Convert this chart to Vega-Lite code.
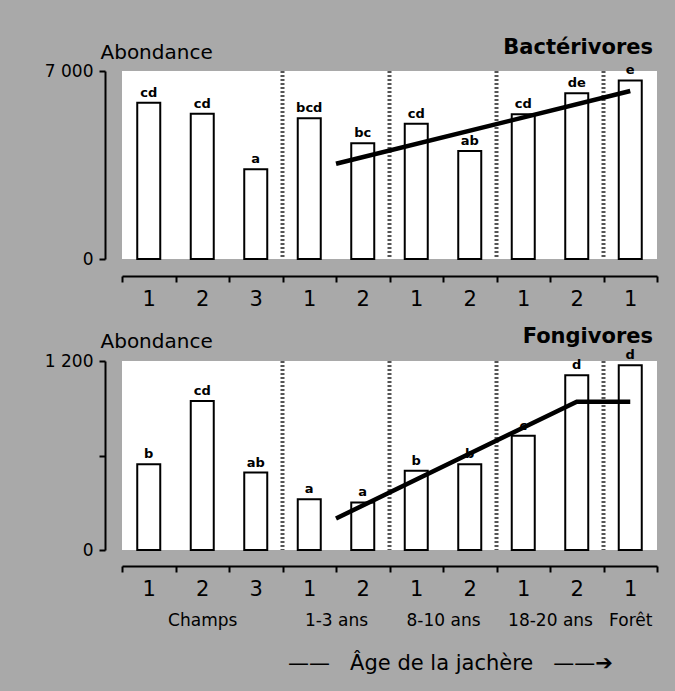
{
  "$schema": "https://vega.github.io/schema/vega-lite/v6.json",
  "background": "#a9a9a9",
  "padding": {"left": 44, "top": 37, "right": 18, "bottom": 18},
  "config": {
    "view": {"fill": "white", "stroke": null},
    "font": "DejaVu Sans",
    "text": {"font": "DejaVu Sans", "color": "black"}
  },
  "datasets": {
    "bact": [
      {"parcelle": "Champs 1", "abondance": 5820, "lettre": "cd"},
      {"parcelle": "Champs 2", "abondance": 5410, "lettre": "cd"},
      {"parcelle": "Champs 3", "abondance": 3340, "lettre": "a"},
      {"parcelle": "1-3 ans 1", "abondance": 5240, "lettre": "bcd"},
      {"parcelle": "1-3 ans 2", "abondance": 4310, "lettre": "bc"},
      {"parcelle": "8-10 ans 1", "abondance": 5040, "lettre": "cd"},
      {"parcelle": "8-10 ans 2", "abondance": 4020, "lettre": "ab"},
      {"parcelle": "18-20 ans 1", "abondance": 5390, "lettre": "cd"},
      {"parcelle": "18-20 ans 2", "abondance": 6170, "lettre": "de"},
      {"parcelle": "Forêt 1", "abondance": 6650, "lettre": "e"}
    ],
    "fong": [
      {"parcelle": "Champs 1", "abondance": 545, "lettre": "b"},
      {"parcelle": "Champs 2", "abondance": 946, "lettre": "cd"},
      {"parcelle": "Champs 3", "abondance": 492, "lettre": "ab"},
      {"parcelle": "1-3 ans 1", "abondance": 323, "lettre": "a"},
      {"parcelle": "1-3 ans 2", "abondance": 302, "lettre": "a"},
      {"parcelle": "8-10 ans 1", "abondance": 503, "lettre": "b"},
      {"parcelle": "8-10 ans 2", "abondance": 545, "lettre": "b"},
      {"parcelle": "18-20 ans 1", "abondance": 725, "lettre": "c"},
      {"parcelle": "18-20 ans 2", "abondance": 1109, "lettre": "d"},
      {"parcelle": "Forêt 1", "abondance": 1173, "lettre": "d"}
    ],
    "limites": [{"limite": 3}, {"limite": 5}, {"limite": 7}, {"limite": 9}],
    "tendanceB": [{"position": 4, "abondance": 3548}, {"position": 9.5, "abondance": 6255}],
    "tendanceF": [{"position": 4, "abondance": 200}, {"position": 8.5, "abondance": 942}, {"position": 9.5, "abondance": 942}]
  },
  "vconcat": [
    {
      "width": 535,
      "height": 188,
      "title": {"text": "Bactérivores", "anchor": "end", "font": "DejaVu Sans", "fontSize": 21, "fontWeight": 900, "color": "black", "offset": -16, "dx": -5},
      "resolve": {"scale": {"x": "independent"}},
      "layer": [
        {
          "data": {"name": "bact"},
          "mark": {"type": "bar", "fill": "white", "stroke": "black", "strokeWidth": 2, "width": {"band": 0.43}},
          "encoding": {
            "x": {"field": "parcelle", "type": "nominal", "sort": null, "scale": {"paddingInner": 0, "paddingOuter": 0},
              "axis": {"title": null, "orient": "bottom", "offset": 17, "tickBand": "extent", "labelExpr": "slice(datum.label, -1)", "labelAngle": 0, "domainColor": "black", "domainWidth": 2, "tickColor": "black", "tickWidth": 2, "tickSize": 6, "labelPadding": 6, "labelFont": "DejaVu Sans", "labelFontSize": 21, "labelColor": "black", "grid": false}},
            "y": {"field": "abondance", "type": "quantitative", "scale": {"domain": [0, 7000], "nice": false},
              "axis": {"title": "Abondance", "values": [0, 7000], "labelExpr": "datum.value == 7000 ? '7 000' : '0'", "offset": 17, "domainColor": "black", "domainWidth": 2, "tickColor": "black", "tickWidth": 2, "tickSize": 6, "labelPadding": 6, "labelFont": "DejaVu Sans", "labelFontSize": 17, "labelColor": "black", "grid": false, "titleAngle": 0, "titleAlign": "left", "titleBaseline": "alphabetic", "titleX": -5, "titleY": -13, "titleFont": "DejaVu Sans", "titleFontSize": 20, "titleFontWeight": "normal", "titleColor": "black"}}
          }
        },
        {
          "data": {"name": "bact"},
          "mark": {"type": "text", "baseline": "bottom", "dy": -3, "fontSize": 13, "fontWeight": "bold"},
          "encoding": {
            "x": {"field": "parcelle", "type": "nominal", "sort": null, "scale": {"paddingInner": 0, "paddingOuter": 0}, "axis": null},
            "y": {"field": "abondance", "type": "quantitative"},
            "text": {"field": "lettre"}
          }
        },
        {
          "data": {"name": "limites"},
          "mark": {"type": "rule", "color": "#555555", "strokeWidth": 4, "strokeDash": [2, 2]},
          "encoding": {
            "x": {"field": "limite", "type": "quantitative", "scale": {"domain": [0, 10], "nice": false, "zero": false}, "axis": null}
          }
        },
        {
          "data": {"name": "tendanceB"},
          "mark": {"type": "line", "color": "black", "strokeWidth": 4.5},
          "encoding": {
            "x": {"field": "position", "type": "quantitative", "scale": {"domain": [0, 10], "nice": false, "zero": false}, "axis": null},
            "y": {"field": "abondance", "type": "quantitative"}
          }
        }
      ]
    },
    {
      "width": 535,
      "height": 189,
      "title": {"text": "Fongivores", "anchor": "end", "font": "DejaVu Sans", "fontSize": 21, "fontWeight": 900, "color": "black", "offset": -16, "dx": -5},
      "resolve": {"scale": {"x": "independent"}},
      "layer": [
        {
          "data": {"name": "fong"},
          "mark": {"type": "bar", "fill": "white", "stroke": "black", "strokeWidth": 2, "width": {"band": 0.43}},
          "encoding": {
            "x": {"field": "parcelle", "type": "nominal", "sort": null, "scale": {"paddingInner": 0, "paddingOuter": 0},
              "axis": {"title": null, "orient": "bottom", "offset": 16, "tickBand": "extent", "labelExpr": "slice(datum.label, -1)", "labelAngle": 0, "domainColor": "black", "domainWidth": 2, "tickColor": "black", "tickWidth": 2, "tickSize": 6, "labelPadding": 6, "labelFont": "DejaVu Sans", "labelFontSize": 21, "labelColor": "black", "grid": false}},
            "y": {"field": "abondance", "type": "quantitative", "scale": {"domain": [0, 1200], "nice": false},
              "axis": {"title": "Abondance", "values": [0, 600, 1200], "labelExpr": "datum.value == 1200 ? '1 200' : datum.value == 0 ? '0' : ''", "offset": 17, "domainColor": "black", "domainWidth": 2, "tickColor": "black", "tickWidth": 2, "tickSize": 6, "labelPadding": 6, "labelFont": "DejaVu Sans", "labelFontSize": 17, "labelColor": "black", "grid": false, "titleAngle": 0, "titleAlign": "left", "titleBaseline": "alphabetic", "titleX": -5, "titleY": -14, "titleFont": "DejaVu Sans", "titleFontSize": 20, "titleFontWeight": "normal", "titleColor": "black"}}
          }
        },
        {
          "data": {"name": "fong"},
          "mark": {"type": "text", "baseline": "bottom", "dy": -3, "fontSize": 13, "fontWeight": "bold"},
          "encoding": {
            "x": {"field": "parcelle", "type": "nominal", "sort": null, "scale": {"paddingInner": 0, "paddingOuter": 0}, "axis": null},
            "y": {"field": "abondance", "type": "quantitative"},
            "text": {"field": "lettre"}
          }
        },
        {
          "data": {"name": "limites"},
          "mark": {"type": "rule", "color": "#555555", "strokeWidth": 4, "strokeDash": [2, 2]},
          "encoding": {
            "x": {"field": "limite", "type": "quantitative", "scale": {"domain": [0, 10], "nice": false, "zero": false},
              "axis": {"orient": "bottom", "values": [1.5, 4, 6, 8, 9.5], "labelExpr": "datum.value == 1.5 ? 'Champs' : datum.value == 4 ? '1-3 ans' : datum.value == 6 ? '8-10 ans' : datum.value == 8 ? '18-20 ans' : 'Forêt'", "offset": 62, "ticks": false, "tickSize": 0, "domain": false, "grid": false, "labelPadding": 0, "labelBaseline": "top", "labelFlush": false, "labelOverlap": false, "labelFont": "DejaVu Sans", "labelFontSize": 17, "labelColor": "black", "title": "——\u00a0\u00a0\u00a0Âge de la jachère\u00a0\u00a0\u00a0——➔", "titleFont": "DejaVu Sans", "titleFontSize": 21, "titleFontWeight": "normal", "titleColor": "black", "titleAlign": "center", "titleBaseline": "alphabetic", "titleX": 328, "titleY": 57}}
          }
        },
        {
          "data": {"name": "tendanceF"},
          "mark": {"type": "line", "color": "black", "strokeWidth": 4.5},
          "encoding": {
            "x": {"field": "position", "type": "quantitative", "scale": {"domain": [0, 10], "nice": false, "zero": false}, "axis": null},
            "y": {"field": "abondance", "type": "quantitative"}
          }
        }
      ]
    }
  ],
  "spacing": 102,
  "bounds": "flush"
}
